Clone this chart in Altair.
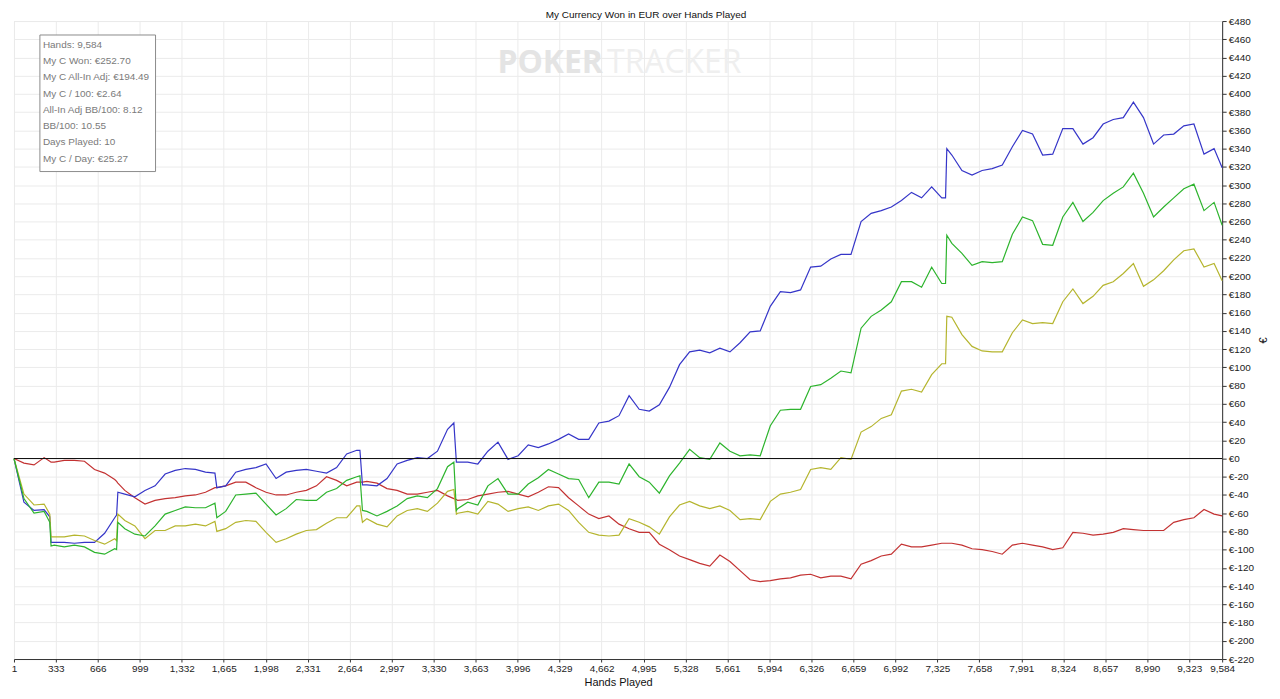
import altair as alt
import pandas as pd

# ---- data (hands played -> EUR) ----
hands = [1, 80, 160, 240, 285, 295, 320, 400, 480, 560,
         640, 720, 800, 815, 825, 880, 960, 1040, 1120, 1200,
         1280, 1360, 1440, 1520, 1595, 1610, 1680, 1760, 1840, 1920,
         2000, 2080, 2160, 2240, 2320, 2400, 2480, 2560, 2640, 2720,
         2745, 2765, 2800, 2880, 2960, 3040, 3120, 3200, 3280, 3360,
         3440, 3490, 3510, 3520, 3600, 3680, 3760, 3840, 3920, 4000,
         4080, 4160, 4240, 4320, 4400, 4480, 4560, 4640, 4720, 4800,
         4880, 4960, 5040, 5120, 5200, 5280, 5360, 5440, 5520, 5600,
         5680, 5760, 5840, 5920, 6000, 6080, 6160, 6240, 6320, 6400,
         6480, 6560, 6640, 6720, 6800, 6880, 6960, 7040, 7120, 7200,
         7280, 7360, 7390, 7400, 7440, 7520, 7600, 7680, 7760, 7840,
         7920, 8000, 8080, 8160, 8240, 8320, 8400, 8480, 8560, 8640,
         8720, 8800, 8880, 8960, 9040, 9120, 9200, 9280, 9360, 9440,
         9520, 9584]

showdown_won = [0, -48, -57, -56, -64, -92, -92, -92, -93, -92,
                -92, -82, -65, -62, -37, -39, -42, -35, -30, -17,
                -13, -11, -12, -15, -16, -32, -30, -15, -12, -10,
                -6, -22, -15, -13, -12, -14, -16, -10, 5, 9,
                9, -29, -29, -30, -22, -6, -2, 1, 0, 8,
                32, 39, -4, -4, -4, -6, 8, 18, -1, 3,
                15, 12, 16, 21, 27, 21, 21, 39, 41, 47,
                69, 54, 52, 59, 78, 103, 117, 119, 116, 121,
                117, 127, 139, 140, 167, 183, 182, 185, 210, 211,
                219, 224, 224, 260, 269, 272, 276, 283, 292, 286,
                298, 286, 286, 340, 333, 316, 311, 316, 318, 322,
                342, 360, 356, 333, 334, 362, 362, 345, 352, 367,
                372, 374, 391, 374, 345, 355, 356, 365, 367, 334,
                340, 319]

net_won = [0, -44, -60, -58, -70, -96, -95, -97, -95, -97,
           -103, -105, -99, -100, -70, -77, -83, -85, -74, -61,
           -57, -53, -54, -54, -49, -65, -58, -40, -39, -38,
           -50, -62, -55, -45, -46, -46, -37, -33, -24, -20,
           -19, -57, -58, -63, -58, -52, -44, -41, -43, -33,
           -9, -4, -57, -55, -48, -51, -30, -22, -39, -39,
           -28, -21, -12, -17, -22, -23, -43, -26, -26, -28,
           -6, -20, -26, -38, -19, -5, 10, 1, -1, 17,
           8, 3, 4, 3, 36, 53, 54, 54, 79, 81,
           88, 96, 94, 143, 156, 163, 172, 194, 194, 188,
           210, 192, 192, 245, 236, 225, 212, 216, 215, 216,
           246, 265, 261, 235, 234, 265, 281, 260, 270, 283,
           291, 298, 313, 291, 265, 276, 286, 296, 301, 272,
           281, 256]

allin_adj = [0, -39, -51, -50, -61, -86, -86, -86, -84, -85,
             -90, -94, -88, -90, -61, -68, -74, -88, -79, -79,
             -74, -74, -72, -74, -69, -80, -77, -70, -68, -69,
             -81, -92, -88, -83, -79, -78, -71, -65, -65, -52,
             -52, -70, -66, -72, -75, -63, -57, -55, -58, -49,
             -36, -34, -61, -60, -58, -61, -47, -50, -58, -55,
             -53, -57, -52, -50, -57, -70, -81, -84, -85, -84,
             -66, -70, -75, -83, -64, -51, -47, -52, -55, -52,
             -57, -67, -66, -67, -47, -39, -37, -34, -12, -10,
             -12, 1, -1, 29, 35, 44, 48, 74, 76, 73,
             92, 104, 104, 156, 155, 136, 123, 118, 117, 117,
             138, 152, 148, 149, 148, 172, 186, 170, 178, 190,
             194, 203, 214, 189, 196, 206, 218, 228, 230, 210,
             214, 195]

non_showdown = [0, -5, -7, 1, -3, -4, -4, -2, -2, -3,
                -12, -16, -23, -25, -27, -35, -43, -50, -46, -44,
                -43, -41, -40, -37, -32, -32, -30, -26, -26, -32,
                -37, -40, -40, -37, -35, -30, -20, -24, -30, -26,
                -26, -26, -25, -27, -33, -35, -39, -39, -37, -35,
                -41, -44, -45, -46, -45, -41, -39, -37, -36, -39,
                -42, -37, -31, -32, -43, -52, -61, -66, -63, -72,
                -77, -81, -81, -94, -100, -107, -111, -115, -118, -106,
                -113, -123, -133, -135, -134, -132, -131, -128, -127, -131,
                -129, -129, -132, -116, -112, -107, -105, -94, -97, -97,
                -95, -93, -93, -93, -93, -95, -99, -100, -102, -105,
                -95, -93, -95, -97, -100, -98, -81, -82, -84, -83,
                -81, -77, -78, -79, -79, -79, -70, -67, -65, -56,
                -61, -63]

series_names = ["Non-showdown", "Showdown", "All-In Adj", "Net Won"]
series_colors = ["#c33232", "#3535c8", "#b5b52e", "#2db42d"]

x_ticks = [1, 333, 666, 999, 1332, 1665, 1998, 2331, 2664, 2997, 3330, 3663,
           3996, 4329, 4662, 4995, 5328, 5661, 5994, 6326, 6659, 6992, 7325,
           7658, 7991, 8324, 8657, 8990, 9323, 9584]
y_ticks = list(range(-220, 481, 20))

stats_lines = ["Hands: 9,584", "My C Won: €252.70", "My C All-In Adj: €194.49",
               "My C / 100: €2.64", "All-In Adj BB/100: 8.12", "BB/100: 10.55",
               "Days Played: 10", "My C / Day: €25.27"]

title_text = "My Currency Won in EUR over Hands Played"

# ---- build table ----
rows = []
for name, vals in zip(["Non-showdown", "Showdown", "All-In Adj", "Net Won"],
                      [non_showdown, showdown_won, allin_adj, net_won]):
    for h, v in zip(hands, vals):
        rows.append({"hand": h, "value": v, "series": name})
df = pd.DataFrame(rows)

FONT = "Liberation Sans"
W, H = 1212, 640

x_enc = alt.X("hand:Q",
              scale=alt.Scale(domain=[1, 9584], nice=False, zero=False),
              axis=alt.Axis(values=x_ticks, labelExpr="format(datum.value, ',')",
                            title="Hands Played",
                            labelOverlap=False, labelFlush=False,
                            labelFontSize=10, labelFont=FONT, labelColor="#222222",
                            titleFontSize=11, titleFont=FONT, titleFontWeight="normal",
                            titleColor="#111111", titlePadding=3,
                            tickSize=3, tickColor="#333333", domainColor="#333333",
                            gridColor="#ebebeb", labelPadding=2))
y_enc = alt.Y("value:Q",
              scale=alt.Scale(domain=[-220, 480], nice=False, zero=False),
              axis=alt.Axis(orient="right", values=y_ticks,
                            labelExpr="'€' + datum.value",
                            title="€", titleAngle=270, titleFontSize=11,
                            titleFont=FONT, titleFontWeight="normal", titleColor="#111111",
                            titlePadding=15,
                            labelFontSize=10, labelFont=FONT, labelColor="#222222",
                            labelOverlap=False, labelFlush=False,
                            tickSize=4, tickColor="#333333", domainColor="#333333",
                            gridColor="#ebebeb", labelPadding=2))

lines = alt.Chart(df).mark_line(strokeWidth=1.2, interpolate="linear").encode(
    x=x_enc, y=y_enc,
    color=alt.Color("series:N", scale=alt.Scale(domain=series_names, range=series_colors),
                    legend=None),
    order=alt.Order("hand:Q"),
)

zero_rule = alt.Chart(pd.DataFrame({"value": [0]})).mark_rule(
    color="#111111", strokeWidth=1
).encode(y=y_enc)

one = pd.DataFrame({"a": [0]})

watermark_poker = alt.Chart(one).mark_text(
    text="POKER", font="Open Sans", fontSize=32, fontWeight="bold",
    color="#e4e4e4", align="left", baseline="middle"
).encode(x=alt.value(485), y=alt.value(42))

watermark_tracker = alt.Chart(one).mark_text(
    text="TRACKER", font="Open Sans", fontSize=32, fontWeight="normal",
    color="#efefef", align="left", baseline="middle"
).encode(x=alt.value(595), y=alt.value(42))

stats_box = alt.Chart(one).mark_rect(fill="white", stroke="#8c8c8c", strokeWidth=1).encode(
    x=alt.value(26), x2=alt.value(142), y=alt.value(14), y2=alt.value(151)
)

stats_layers = []
for i, line in enumerate(stats_lines):
    stats_layers.append(
        alt.Chart(one).mark_text(
            text=line, align="left", baseline="middle", font=FONT, fontSize=10,
            color="#7a7a7a"
        ).encode(x=alt.value(29), y=alt.value(24 + i * 16.3))
    )

chart = alt.layer(
    watermark_poker, watermark_tracker, lines, zero_rule, stats_box, *stats_layers
).properties(
    width=W, height=H,
    title=alt.TitleParams(title_text, fontSize=10, font=FONT, fontWeight="normal",
                          color="#111111", anchor="middle", offset=-4, dx=28),
    autosize=alt.AutoSizeParams(type="none"),
    padding={"left": 6, "top": 12, "right": 50, "bottom": 30},
).configure_view(
    stroke="#444444", strokeWidth=1
).configure(
    background="white"
)

chart.save("out.html", embed_options={"renderer": "svg", "actions": False})
